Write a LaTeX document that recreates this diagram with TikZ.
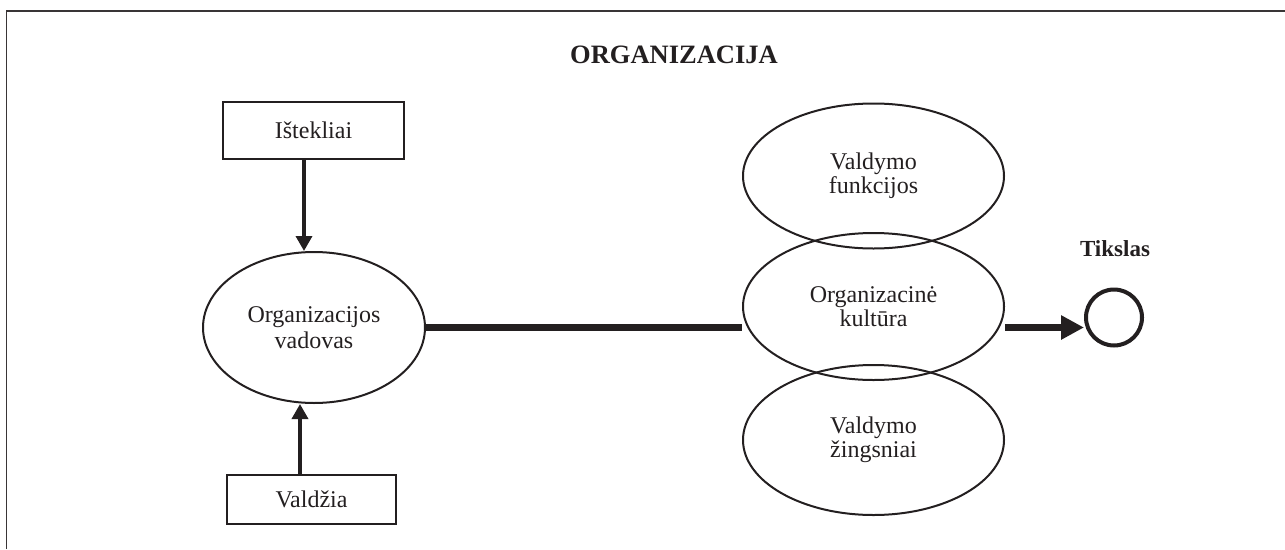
\documentclass[tikz,border=0pt]{standalone}
\usepackage{fontspec}
\setmainfont{Liberation Serif}
\usetikzlibrary{shapes.geometric,arrows.meta}
\definecolor{ink}{HTML}{231F20}
\tikzset{
  txt/.style={font=\fontsize{24}{24}\selectfont, text=ink, align=center},
  boxnode/.style={draw=ink, line width=2.2pt, inner sep=0pt, txt},
  ell/.style={ellipse, draw=ink, line width=2pt, inner sep=0pt, txt},
  thinarrow/.style={draw=ink, line width=3.5pt, -{Triangle[length=15pt,width=16pt]}},
  thickline/.style={draw=ink, line width=7.5pt},
  bigarrow/.style={draw=ink, line width=7.5pt, -{Triangle[length=23pt,width=23pt]}},
  goalnode/.style={circle, draw=ink, line width=4pt, minimum size=56pt, inner sep=0pt},
  boldlabel/.style={text=ink, inner sep=0pt, anchor=base}
}
\begin{document}
\begin{tikzpicture}[x=1pt,y=-1pt]
\useasboundingbox (0,0) rectangle (1285,549);
% frame
\draw[ink!90, line width=1.6pt] (6.5,549) -- (6.5,11) -- (1285,11);
% title
\node[boldlabel, font=\fontsize{26.5}{26.5}\selectfont\bfseries] (title) at (674,63) {ORGANIZACIJA};
% left side
\node[boxnode, minimum width=181pt, minimum height=57pt] (ist) at (313.5,130.5) {Ištekliai};
\node[ell, minimum width=222pt, minimum height=151pt, font=\fontsize{24}{26.5}\selectfont] (lell) at (314,327.5) {Organizacijos\\vadovas};
\node[boxnode, minimum width=169pt, minimum height=49pt] (vald) at (311.5,499.5) {Valdžia};
% right ellipses
\node[ell, minimum width=261pt, minimum height=145pt] (top) at (873.5,176) {Valdymo\\funkcijos};
\node[ell, minimum width=261pt, minimum height=147pt] (mid) at (873.5,306.5) {Organizacinė\\kultūra};
\node[ell, minimum width=261pt, minimum height=150pt] (bot) at (873.5,440) {Valdymo\\žingsniai};
% goal
\node[goalnode] (goal) at (1114,317.5) {};
\node[boldlabel, font=\fontsize{23}{23}\selectfont\bfseries] (tik) at (1115,256) {Tikslas};
% connectors
\draw[thinarrow] ([xshift=-9.5pt]ist.south) -- ([xshift=-9.5pt]ist.south |- lell.north);
\draw[thinarrow] ([xshift=-11.5pt]vald.north) -- ([xshift=-11.5pt]vald.north |- lell.south);
\draw[thickline] (lell.east) -- (lell.east -| mid.west);
\draw[bigarrow] (mid.east |- lell.east) -- (goal.west |- lell.east);
\end{tikzpicture}
\end{document}
